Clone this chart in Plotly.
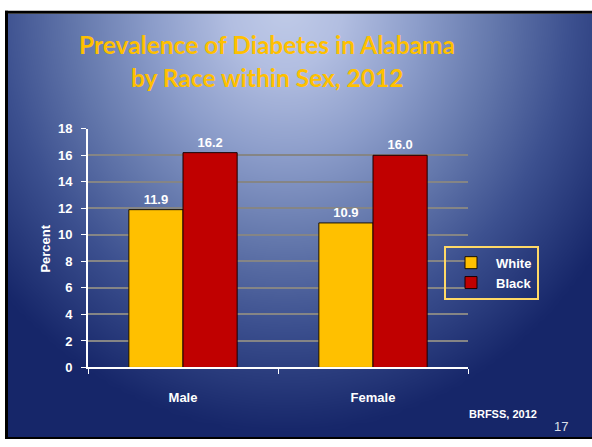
import numpy as np
import plotly.graph_objects as go

# ---- chart data -------------------------------------------------------
sexes = ["Male", "Female"]
white_pct = [11.9, 10.9]
black_pct = [16.2, 16.0]
y_ticks = [0, 2, 4, 6, 8, 10, 12, 14, 16, 18]

W, H = 592, 447
FONT = "Liberation Sans"


def px_x(v):
    return v / W


def px_y(v):
    return 1 - v / H


# ---- slide background: radial gradient from the top centre ------------
gx = np.linspace(8, W, 80)
gy = np.linspace(7, H, 60)
GX, GY = np.meshgrid(gx, gy)
dist = np.sqrt(((GX - 285) / 380.0) ** 2 + ((GY - 0) / 440.0) ** 2)
dist = np.clip(dist, 0, 1)

bg_scale = [
    [0.0, "rgb(192,203,232)"],
    [0.15, "rgb(178,190,225)"],
    [0.35, "rgb(140,157,202)"],
    [0.55, "rgb(100,120,172)"],
    [0.75, "rgb(60,80,143)"],
    [1.0, "rgb(22,38,105)"],
]

fig = go.Figure()
fig.add_trace(go.Heatmap(
    x=gx, y=gy, z=dist, zmin=0, zmax=1, colorscale=bg_scale,
    zsmooth="best", showscale=False, hoverinfo="skip",
    xaxis="x", yaxis="y",
))

# ---- bars ---------------------------------------------------------------
label_font = dict(family=FONT, size=13, color="white", weight="bold")
fig.add_trace(go.Bar(
    name="White", x=sexes, y=white_pct,
    marker=dict(color="#FFC000", line=dict(color="#1a1000", width=1)),
    text=[f"{v:.1f}" for v in white_pct], textposition="outside",
    textfont=label_font, cliponaxis=False,
    xaxis="x2", yaxis="y2", legendgroup="w",
))
fig.add_trace(go.Bar(
    name="Black", x=sexes, y=black_pct,
    marker=dict(color="#C00000", line=dict(color="#1a0000", width=1)),
    text=[f"{v:.1f}" for v in black_pct], textposition="outside",
    textfont=label_font, cliponaxis=False,
    xaxis="x2", yaxis="y2", legendgroup="b",
))

tick_font = dict(family=FONT, size=13, color="white", weight="bold")

fig.update_layout(
    width=W, height=H,
    margin=dict(l=0, r=0, t=0, b=0, pad=0),
    paper_bgcolor="white",
    plot_bgcolor="rgba(0,0,0,0)",
    barmode="group", bargap=0.43, bargroupgap=0,
    xaxis=dict(domain=[px_x(8), 1], range=[8, W], visible=False, fixedrange=True),
    yaxis=dict(domain=[0, px_y(7)], range=[H, 7], visible=False, fixedrange=True),
    xaxis2=dict(
        domain=[px_x(88), px_x(468)], anchor="y2",
        showline=True, linecolor="white", linewidth=2,
        ticks="outside", tickson="boundaries", ticklen=5, tickcolor="white",
        showgrid=False, tickfont=tick_font, ticklabelstandoff=17,
    ),
    yaxis2=dict(
        domain=[px_y(373), px_y(126)], anchor="x2", range=[0, 18],
        tickvals=y_ticks, showline=True, linecolor="white", linewidth=2,
        ticks="outside", ticklen=5, tickcolor="white",
        showgrid=True, gridcolor="#858585", gridwidth=1.5,
        zeroline=False, tickfont=tick_font, ticklabelstandoff=6,
    ),
    legend=dict(
        x=px_x(444), y=px_y(247), xanchor="left", yanchor="top",
        bgcolor="rgba(0,0,0,0)", bordercolor="#FFD966", borderwidth=2,
        font=dict(family=FONT, size=13, color="white", weight="bold"),
        traceorder="grouped", tracegroupgap=0, itemwidth=40,
    ),
    showlegend=True,
)

# ---- slide border ------------------------------------------------------
for x0, y0, x1, y1 in [(5, 4, W, 7), (5, 4, 8, H), (5, 445, W, H)]:
    fig.add_shape(type="rect", xref="paper", yref="paper",
                  x0=px_x(x0), x1=px_x(x1), y0=px_y(y1), y1=px_y(y0),
                  fillcolor="black", line=dict(width=0), layer="above")

# ---- text ---------------------------------------------------------------
title_font = dict(family="Lato", size=24.5, color="#FFC000", weight="bold")
fig.add_annotation(text="Prevalence of Diabetes in Alabama", x=px_x(267), y=px_y(38.5),
                   xref="paper", yref="paper", showarrow=False, font=title_font,
                   xanchor="center", yanchor="middle")
fig.add_annotation(text="by Race within Sex, 2012", x=px_x(267), y=px_y(73),
                   xref="paper", yref="paper", showarrow=False, font=title_font,
                   xanchor="center", yanchor="middle")
fig.add_annotation(text="Percent", x=px_x(46), y=px_y(250), textangle=-90,
                   xref="paper", yref="paper", showarrow=False,
                   font=dict(family=FONT, size=13, color="white", weight="bold"),
                   xanchor="center", yanchor="middle")
fig.add_annotation(text="BRFSS, 2012", x=px_x(503), y=px_y(421),
                   xref="paper", yref="paper", showarrow=False,
                   font=dict(family=FONT, size=11, color="white", weight="bold"),
                   xanchor="center", yanchor="middle")
fig.add_annotation(text="17", x=px_x(561), y=px_y(434),
                   xref="paper", yref="paper", showarrow=False,
                   font=dict(family=FONT, size=13, color="#DCE0EA"),
                   xanchor="center", yanchor="middle")

fig.write_html("out.html")
